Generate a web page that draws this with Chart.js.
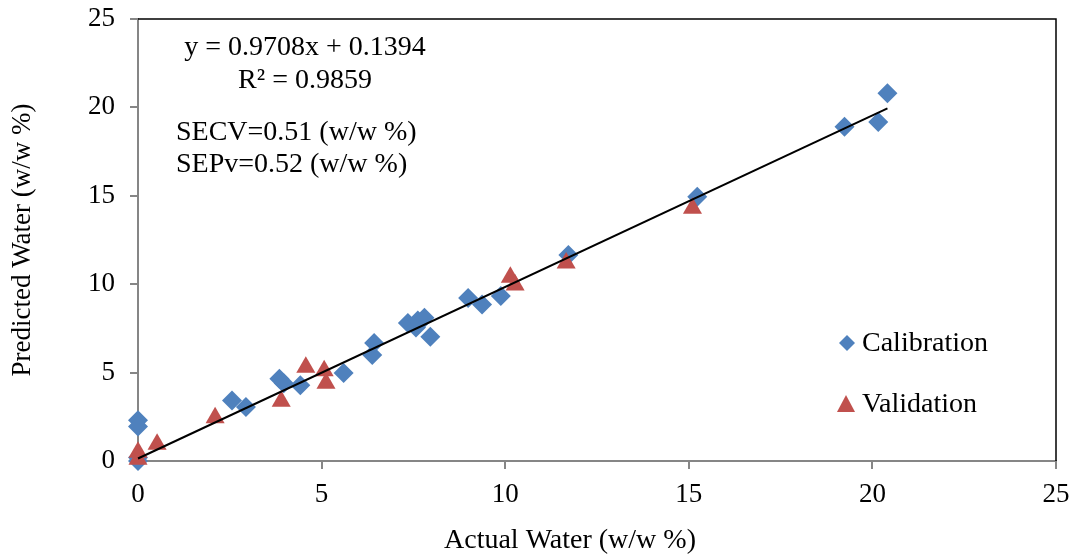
<!DOCTYPE html>
<html>
<head>
<meta charset="utf-8">
<script src="https://cdn.jsdelivr.net/npm/chart.js@4.4.1/dist/chart.umd.min.js"></script>
<style>
  html, body { margin: 0; padding: 0; background: #ffffff; }
  #wrap { width: 1076px; height: 558px; }
</style>
</head>
<body>
<div id="wrap"><canvas id="canvas"></canvas></div>
<script>
// Calibration points (actual, predicted)
var calX = [0, 0, 0, 0, 2.56, 2.94, 3.85, 3.97, 4.42, 5.6, 6.38, 6.43, 7.35, 7.57, 7.62, 7.8, 7.96, 8.99, 9.37, 9.88, 11.72, 15.23, 19.24, 20.16, 20.41];
var calY = [2.3, 1.95, 0.2, 0.0, 3.42, 3.05, 4.65, 4.4, 4.28, 4.98, 6.0, 6.67, 7.8, 7.55, 7.95, 8.1, 7.03, 9.22, 8.85, 9.33, 11.65, 14.95, 18.9, 19.17, 20.8];

// Validation points (actual, predicted)
var valX = [0, 0, 0.52, 2.1, 3.9, 4.57, 5.07, 5.12, 10.14, 10.27, 11.66, 15.1];
var valY = [0.1, 0.5, 0.95, 2.45, 3.38, 5.3, 5.1, 4.4, 10.4, 9.95, 11.2, 14.3];

// Trendline ends
var trendX = [0, 20.41];
var trendY = [0.14, 19.95];

var xTicks = [0, 5, 10, 15, 20, 25];
var yTicks = [0, 5, 10, 15, 20, 25];

var seriesNames = ["Calibration", "Validation"];
var noteLines = ["y = 0.9708x + 0.1394", "R\u00b2 = 0.9859", "SECV=0.51 (w/w %)", "SEPv=0.52 (w/w %)"];
var xTitle = "Actual Water (w/w %)";
var yTitle = "Predicted Water (w/w %)";

var blue = "#4F81BD";
var red = "#C0504D";
var axisGray = "#868686";
var serif = "'Liberation Serif', 'Times New Roman', serif";

function toPoints(xs, ys) {
  return xs.map(function (x, i) { return { x: x, y: ys[i] }; });
}

// Black border on top and right, notes, x title and legend
var extras = {
  id: "extras",
  afterDatasetsDraw: function (chart) {
    var ctx = chart.ctx;
    var a = chart.chartArea;
    ctx.save();
    ctx.strokeStyle = "#000000";
    ctx.lineWidth = 1.5;
    ctx.beginPath();
    ctx.moveTo(a.left, a.top);
    ctx.lineTo(a.right, a.top);
    ctx.lineTo(a.right, a.bottom);
    ctx.stroke();

    ctx.fillStyle = "#000000";
    ctx.font = "28px " + serif;
    ctx.textBaseline = "middle";
    ctx.textAlign = "center";
    ctx.fillText(noteLines[0], 305, 48);
    ctx.fillText(noteLines[1], 305, 81);
    ctx.fillText(xTitle, 570, 541);
    ctx.textAlign = "left";
    ctx.fillText(noteLines[2], 176, 133);
    ctx.fillText(noteLines[3], 176, 165);

    // legend
    ctx.fillStyle = blue;
    ctx.beginPath();
    ctx.moveTo(847, 343 - 8);
    ctx.lineTo(847 + 8, 343);
    ctx.lineTo(847, 343 + 8);
    ctx.lineTo(847 - 8, 343);
    ctx.closePath();
    ctx.fill();
    ctx.fillStyle = red;
    ctx.beginPath();
    ctx.moveTo(846, 395);
    ctx.lineTo(855, 412);
    ctx.lineTo(837, 412);
    ctx.closePath();
    ctx.fill();
    ctx.fillStyle = "#000000";
    ctx.fillText(seriesNames[0], 862, 344);
    ctx.fillText(seriesNames[1], 862, 405);
    ctx.restore();
  }
};

var ctx = document.getElementById("canvas").getContext("2d");

var chart = new Chart(ctx, {
  type: "scatter",
  data: {
    datasets: [
      {
        label: seriesNames[0],
        data: toPoints(calX, calY),
        pointStyle: "rectRot",
        pointRadius: 10,
        pointHoverRadius: 10,
        backgroundColor: blue,
        borderColor: blue,
        borderWidth: 0,
        clip: false,
        order: 2
      },
      {
        label: seriesNames[1],
        data: toPoints(valX, valY),
        pointStyle: "triangle",
        pointRadius: 11,
        pointHoverRadius: 11,
        backgroundColor: red,
        borderColor: red,
        borderWidth: 0,
        clip: false,
        order: 1
      },
      {
        type: "line",
        label: "trend",
        data: toPoints(trendX, trendY),
        borderColor: "#000000",
        borderWidth: 2,
        pointRadius: 0,
        fill: false,
        clip: false,
        order: 0
      }
    ]
  },
  options: {
    responsive: true,
    maintainAspectRatio: false,
    animation: false,
    events: [],
    layout: { padding: { top: 19, right: 20, left: 0, bottom: 0 } },
    plugins: {
      legend: { display: false },
      tooltip: { enabled: false }
    },
    scales: {
      x: {
        type: "linear",
        min: 0,
        max: 25,
        afterBuildTicks: function (scale) {
          scale.ticks = xTicks.map(function (v) { return { value: v }; });
        },
        afterFit: function (scale) {
          scale.height = 97;
          scale.paddingLeft = 0;
          scale.paddingRight = 0;
        },
        border: { display: true, color: axisGray, width: 2 },
        grid: { drawOnChartArea: false, drawTicks: true, tickLength: 8, color: axisGray, lineWidth: 2 },
        ticks: { color: "#000000", padding: 10, font: { family: serif, size: 27 } }
      },
      y: {
        type: "linear",
        min: 0,
        max: 25,
        afterBuildTicks: function (scale) {
          scale.ticks = yTicks.map(function (v) { return { value: v }; });
        },
        afterFit: function (scale) {
          scale.width = 138;
          scale.paddingTop = 0;
          scale.paddingBottom = 0;
        },
        border: { display: true, color: axisGray, width: 2 },
        grid: { drawOnChartArea: false, drawTicks: true, tickLength: 8, color: axisGray, lineWidth: 2 },
        ticks: { color: "#000000", padding: 15, font: { family: serif, size: 27 } },
        title: {
          display: true,
          text: yTitle,
          color: "#000000",
          font: { family: serif, size: 27 },
          padding: { top: 7, bottom: 0 }
        }
      }
    }
  },
  plugins: [extras]
});
</script>
</body>
</html>
